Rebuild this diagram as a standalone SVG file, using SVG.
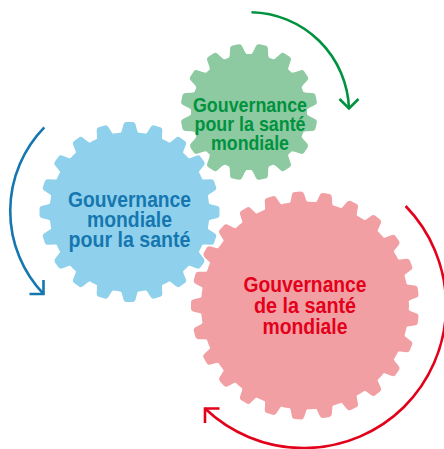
<svg xmlns="http://www.w3.org/2000/svg" xmlns:xlink="http://www.w3.org/1999/xlink" width="444" height="449" viewBox="0 0 444 449">
  <defs>
    <!-- one gear tooth, pointing along +x, base sitting on the root circle -->
    <path id="tooth" d="M-3,-9 L0,-9 Q2,-7.9 3.2,-7.6 L8.6,-6.2 Q11.5,-5.6 11.5,-3 L11.5,3 Q11.5,5.6 8.6,6.2 L3.2,7.6 Q2,7.9 0,9 L-3,9 Z"/>
  </defs>
  <style>
    .label { font-family: "Liberation Sans", Arial, sans-serif; font-weight: bold; text-anchor: middle; }
    .green-fill { fill: #8dc9a1; }
    .blue-fill { fill: #8fd1ec; }
    .red-fill { fill: #f29fa3; }
    .arc { fill: none; stroke-width: 2.6; stroke-linecap: butt; stroke-linejoin: miter; }
  </style>

  <!-- connectors: circular arrows around each gear -->
  <g id="connectors">
    <g stroke="#00923f" class="arc">
      <path d="M251.5,12.2 A100,100 0 0 1 349,108.5"/>
      <path d="M339.5,99 L349,108.5 L358.5,99"/>
    </g>
    <g stroke="#1677b0" class="arc">
      <path d="M44.3,127.3 A120,120 0 0 0 43.5,294"/>
      <path d="M29.5,294 L43.5,294 L43.5,280"/>
    </g>
    <g stroke="#e3001b" class="arc">
      <path d="M405.6,206 A143,143 0 0 1 404,407 A143,143 0 0 1 205,408.5"/>
      <path d="M219.5,408.5 L205,408.5 L205,423"/>
    </g>
  </g>

  <!-- green gear, 16 teeth -->
  <g id="gear-green">
    <g class="green-fill" transform="translate(249,112)">
      <circle r="58"/>
      <use xlink:href="#tooth" transform="rotate(11.25) translate(57,0)"/>
      <use xlink:href="#tooth" transform="rotate(33.75) translate(57,0)"/>
      <use xlink:href="#tooth" transform="rotate(56.25) translate(57,0)"/>
      <use xlink:href="#tooth" transform="rotate(78.75) translate(57,0)"/>
      <use xlink:href="#tooth" transform="rotate(101.25) translate(57,0)"/>
      <use xlink:href="#tooth" transform="rotate(123.75) translate(57,0)"/>
      <use xlink:href="#tooth" transform="rotate(146.25) translate(57,0)"/>
      <use xlink:href="#tooth" transform="rotate(168.75) translate(57,0)"/>
      <use xlink:href="#tooth" transform="rotate(191.25) translate(57,0)"/>
      <use xlink:href="#tooth" transform="rotate(213.75) translate(57,0)"/>
      <use xlink:href="#tooth" transform="rotate(236.25) translate(57,0)"/>
      <use xlink:href="#tooth" transform="rotate(258.75) translate(57,0)"/>
      <use xlink:href="#tooth" transform="rotate(281.25) translate(57,0)"/>
      <use xlink:href="#tooth" transform="rotate(303.75) translate(57,0)"/>
      <use xlink:href="#tooth" transform="rotate(326.25) translate(57,0)"/>
      <use xlink:href="#tooth" transform="rotate(348.75) translate(57,0)"/>
    </g>
    <g class="label" fill="#00923f" font-size="21">
      <text x="250" y="111.5" textLength="114" lengthAdjust="spacingAndGlyphs">Gouvernance</text>
      <text x="250" y="131" textLength="111" lengthAdjust="spacingAndGlyphs">pour la santé</text>
      <text x="250" y="150" textLength="78" lengthAdjust="spacingAndGlyphs">mondiale</text>
    </g>
  </g>

  <!-- blue gear, 20 teeth -->
  <g id="gear-blue">
    <g class="blue-fill" transform="translate(129.5,212)">
      <circle r="80"/>
      <use xlink:href="#tooth" transform="rotate(0) translate(78.5,0)"/>
      <use xlink:href="#tooth" transform="rotate(18) translate(78.5,0)"/>
      <use xlink:href="#tooth" transform="rotate(36) translate(78.5,0)"/>
      <use xlink:href="#tooth" transform="rotate(54) translate(78.5,0)"/>
      <use xlink:href="#tooth" transform="rotate(72) translate(78.5,0)"/>
      <use xlink:href="#tooth" transform="rotate(90) translate(78.5,0)"/>
      <use xlink:href="#tooth" transform="rotate(108) translate(78.5,0)"/>
      <use xlink:href="#tooth" transform="rotate(126) translate(78.5,0)"/>
      <use xlink:href="#tooth" transform="rotate(144) translate(78.5,0)"/>
      <use xlink:href="#tooth" transform="rotate(162) translate(78.5,0)"/>
      <use xlink:href="#tooth" transform="rotate(180) translate(78.5,0)"/>
      <use xlink:href="#tooth" transform="rotate(198) translate(78.5,0)"/>
      <use xlink:href="#tooth" transform="rotate(216) translate(78.5,0)"/>
      <use xlink:href="#tooth" transform="rotate(234) translate(78.5,0)"/>
      <use xlink:href="#tooth" transform="rotate(252) translate(78.5,0)"/>
      <use xlink:href="#tooth" transform="rotate(270) translate(78.5,0)"/>
      <use xlink:href="#tooth" transform="rotate(288) translate(78.5,0)"/>
      <use xlink:href="#tooth" transform="rotate(306) translate(78.5,0)"/>
      <use xlink:href="#tooth" transform="rotate(324) translate(78.5,0)"/>
      <use xlink:href="#tooth" transform="rotate(342) translate(78.5,0)"/>
    </g>
    <g class="label" fill="#1677b0" font-size="22.5">
      <text x="129.5" y="207" textLength="123" lengthAdjust="spacingAndGlyphs">Gouvernance</text>
      <text x="129.5" y="227" textLength="85" lengthAdjust="spacingAndGlyphs">mondiale</text>
      <text x="129.5" y="247" textLength="122" lengthAdjust="spacingAndGlyphs">pour la santé</text>
    </g>
  </g>

  <!-- red gear, 25 teeth -->
  <g id="gear-red">
    <g class="red-fill" transform="translate(305,305.5)">
      <circle r="104"/>
      <use xlink:href="#tooth" transform="rotate(7.2) translate(102.5,0)"/>
      <use xlink:href="#tooth" transform="rotate(21.6) translate(102.5,0)"/>
      <use xlink:href="#tooth" transform="rotate(36) translate(102.5,0)"/>
      <use xlink:href="#tooth" transform="rotate(50.4) translate(102.5,0)"/>
      <use xlink:href="#tooth" transform="rotate(64.8) translate(102.5,0)"/>
      <use xlink:href="#tooth" transform="rotate(79.2) translate(102.5,0)"/>
      <use xlink:href="#tooth" transform="rotate(93.6) translate(102.5,0)"/>
      <use xlink:href="#tooth" transform="rotate(108) translate(102.5,0)"/>
      <use xlink:href="#tooth" transform="rotate(122.4) translate(102.5,0)"/>
      <use xlink:href="#tooth" transform="rotate(136.8) translate(102.5,0)"/>
      <use xlink:href="#tooth" transform="rotate(151.2) translate(102.5,0)"/>
      <use xlink:href="#tooth" transform="rotate(165.6) translate(102.5,0)"/>
      <use xlink:href="#tooth" transform="rotate(180) translate(102.5,0)"/>
      <use xlink:href="#tooth" transform="rotate(194.4) translate(102.5,0)"/>
      <use xlink:href="#tooth" transform="rotate(208.8) translate(102.5,0)"/>
      <use xlink:href="#tooth" transform="rotate(223.2) translate(102.5,0)"/>
      <use xlink:href="#tooth" transform="rotate(237.6) translate(102.5,0)"/>
      <use xlink:href="#tooth" transform="rotate(252) translate(102.5,0)"/>
      <use xlink:href="#tooth" transform="rotate(266.4) translate(102.5,0)"/>
      <use xlink:href="#tooth" transform="rotate(280.8) translate(102.5,0)"/>
      <use xlink:href="#tooth" transform="rotate(295.2) translate(102.5,0)"/>
      <use xlink:href="#tooth" transform="rotate(309.6) translate(102.5,0)"/>
      <use xlink:href="#tooth" transform="rotate(324) translate(102.5,0)"/>
      <use xlink:href="#tooth" transform="rotate(338.4) translate(102.5,0)"/>
      <use xlink:href="#tooth" transform="rotate(352.8) translate(102.5,0)"/>
    </g>
    <g class="label" fill="#e3001b" font-size="22.5">
      <text x="305" y="291.5" textLength="123" lengthAdjust="spacingAndGlyphs">Gouvernance</text>
      <text x="305" y="312.5" textLength="102" lengthAdjust="spacingAndGlyphs">de la santé</text>
      <text x="305" y="333.5" textLength="85" lengthAdjust="spacingAndGlyphs">mondiale</text>
    </g>
  </g>
</svg>
